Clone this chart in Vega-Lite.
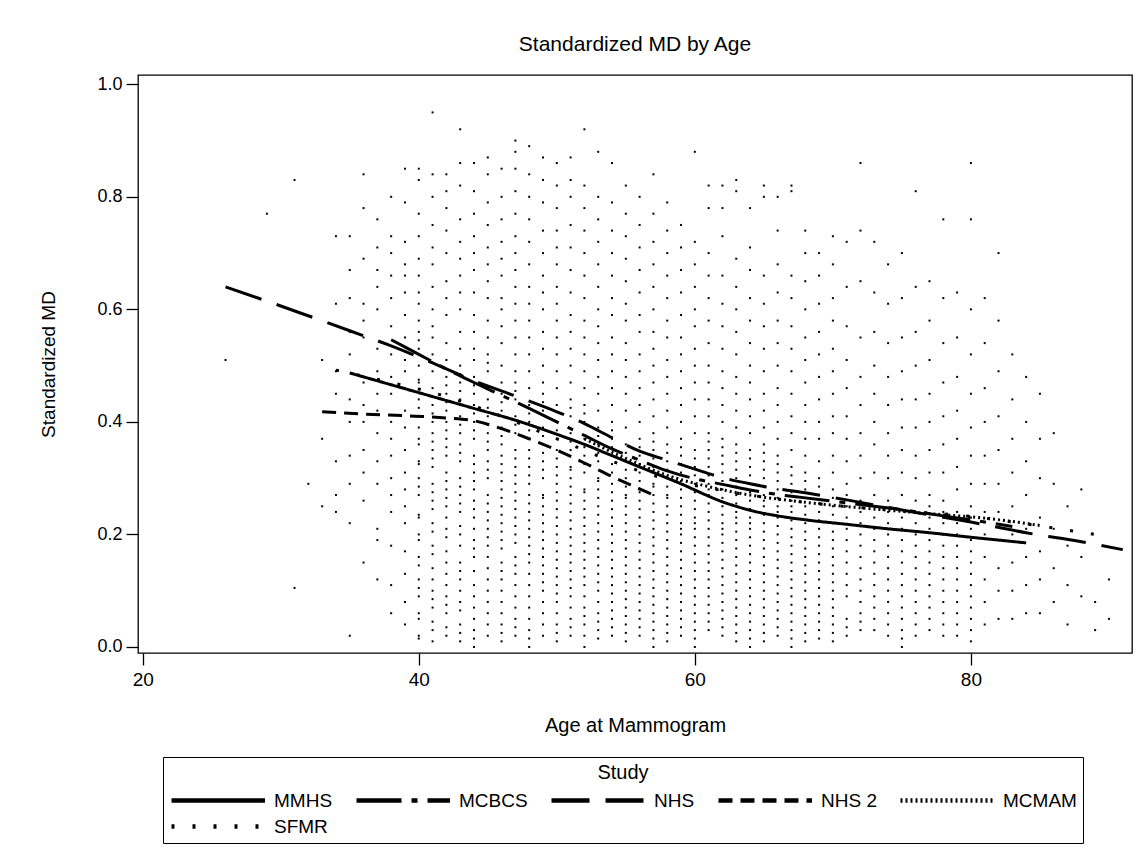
{
"$schema":"https://vega.github.io/schema/vega-lite/v6.json",
"width":994,"height":578,
"autosize":{"type":"none"},
"padding":{"left":138,"top":75,"right":9,"bottom":208},
"background":"white",
"title":{"text":"Standardized MD by Age","anchor":"middle","frame":"group","fontSize":21,"fontWeight":"normal","font":"Liberation Sans","offset":20,"color":"black"},
"config":{
"view":{"stroke":"black","strokeWidth":1.3},
"axis":{"grid":false,"domain":false,"tickColor":"black","tickWidth":1.3,"tickSize":12,"labelColor":"black","titleColor":"black","titleFontWeight":"normal","labelFont":"Liberation Sans","titleFont":"Liberation Sans"},
"legend":{"orient":"none","legendX":25,"legendY":682,"direction":"horizontal","columns":5,"gridAlign":"none","titleAnchor":"middle","strokeColor":"black","padding":6,"titleFont":"Liberation Sans","titleFontSize":20,"titleFontWeight":"normal","titleColor":"black","labelFont":"Liberation Sans","labelFontSize":19,"labelColor":"black","symbolType":"M-1,0L7.5,0","symbolSize":484,"symbolStrokeWidth":4.5,"symbolStrokeColor":"black","symbolFillColor":"transparent","columnPadding":14,"rowPadding":2,"labelOffset":78,"titlePadding":4}
},
"layer":[
{"data":{"values":[
{"a":26,"m":0.51},{"a":29,"m":0.77},{"a":31,"m":0.83},{"a":31,"m":0.105},{"a":32,"m":0.29},
{"a":33,"m":0.51},{"a":33,"m":0.37},{"a":33,"m":0.25},
{"a":34,"m":0.61},{"a":34,"m":0.33},{"a":34,"m":0.27},{"a":34,"m":0.24},{"a":34,"m":0.73},{"a":34,"m":0.45},{"a":34,"m":0.49},
{"a":35,"m":0.67},{"a":35,"m":0.62},{"a":35,"m":0.56},{"a":35,"m":0.44},{"a":35,"m":0.4},{"a":35,"m":0.29},{"a":35,"m":0.22},{"a":35,"m":0.02},{"a":35,"m":0.52},{"a":35,"m":0.73},{"a":35,"m":0.34},
{"a":36,"m":0.84},{"a":36,"m":0.78},{"a":36,"m":0.69},{"a":36,"m":0.61},{"a":36,"m":0.55},{"a":36,"m":0.47},{"a":36,"m":0.43},{"a":36,"m":0.35},{"a":36,"m":0.31},{"a":36,"m":0.26},{"a":36,"m":0.15},{"a":36,"m":0.58},{"a":36,"m":0.4},
{"a":37,"m":0.76},{"a":37,"m":0.71},{"a":37,"m":0.64},{"a":37,"m":0.53},{"a":37,"m":0.49},{"a":37,"m":0.42},{"a":37,"m":0.38},{"a":37,"m":0.33},{"a":37,"m":0.29},{"a":37,"m":0.21},{"a":37,"m":0.19},{"a":37,"m":0.12},{"a":37,"m":0.6},{"a":37,"m":0.67},{"a":37,"m":0.45},
{"a":38,"m":0.8},{"a":38,"m":0.73},{"a":38,"m":0.7},{"a":38,"m":0.66},{"a":38,"m":0.57},{"a":38,"m":0.52},{"a":38,"m":0.48},{"a":38,"m":0.45},{"a":38,"m":0.4},{"a":38,"m":0.37},{"a":38,"m":0.3},{"a":38,"m":0.27},{"a":38,"m":0.24},{"a":38,"m":0.18},{"a":38,"m":0.11},{"a":38,"m":0.06},{"a":38,"m":0.62},{"a":38,"m":0.34},
{"a":39,"m":0.85},{"a":39,"m":0.79},{"a":39,"m":0.72},{"a":39,"m":0.68},{"a":39,"m":0.63},{"a":39,"m":0.59},{"a":39,"m":0.55},{"a":39,"m":0.51},{"a":39,"m":0.46},{"a":39,"m":0.42},{"a":39,"m":0.39},{"a":39,"m":0.35},{"a":39,"m":0.31},{"a":39,"m":0.28},{"a":39,"m":0.22},{"a":39,"m":0.17},{"a":39,"m":0.13},{"a":39,"m":0.08},{"a":39,"m":0.04},{"a":39,"m":0.66},{"a":39,"m":0.49},{"a":39,"m":0.25},
{"a":40,"m":0.85},{"a":40,"m":0.83},{"a":40,"m":0.77},{"a":40,"m":0.73},{"a":40,"m":0.69},{"a":40,"m":0.66},{"a":40,"m":0.61},{"a":40,"m":0.58},{"a":40,"m":0.56},{"a":40,"m":0.53},{"a":40,"m":0.5},{"a":40,"m":0.47},{"a":40,"m":0.44},{"a":40,"m":0.41},{"a":40,"m":0.39},{"a":40,"m":0.36},{"a":40,"m":0.33},{"a":40,"m":0.3},{"a":40,"m":0.27},{"a":40,"m":0.23},{"a":40,"m":0.2},{"a":40,"m":0.16},{"a":40,"m":0.12},{"a":40,"m":0.09},{"a":40,"m":0.05},{"a":40,"m":0.02},{"a":40,"m":0.63},
{"a":41,"m":0.95},{"a":41,"m":0.84},{"a":41,"m":0.8},{"a":41,"m":0.75},{"a":41,"m":0.71},{"a":41,"m":0.68},{"a":41,"m":0.64},{"a":41,"m":0.6},{"a":41,"m":0.57},{"a":41,"m":0.55},{"a":41,"m":0.52},{"a":41,"m":0.49},{"a":41,"m":0.46},{"a":41,"m":0.43},{"a":41,"m":0.4},{"a":41,"m":0.38},{"a":41,"m":0.35},{"a":41,"m":0.32},{"a":41,"m":0.29},{"a":41,"m":0.26},{"a":41,"m":0.22},{"a":41,"m":0.18},{"a":41,"m":0.14},{"a":41,"m":0.1},{"a":41,"m":0.07},{"a":41,"m":0.03},{"a":41,"m":0.01},
{"a":42,"m":0.84},{"a":42,"m":0.81},{"a":42,"m":0.78},{"a":42,"m":0.74},{"a":42,"m":0.7},{"a":42,"m":0.65},{"a":42,"m":0.62},{"a":42,"m":0.59},{"a":42,"m":0.54},{"a":42,"m":0.51},{"a":42,"m":0.48},{"a":42,"m":0.45},{"a":42,"m":0.42},{"a":42,"m":0.4},{"a":42,"m":0.37},{"a":42,"m":0.34},{"a":42,"m":0.31},{"a":42,"m":0.28},{"a":42,"m":0.25},{"a":42,"m":0.21},{"a":42,"m":0.17},{"a":42,"m":0.13},{"a":42,"m":0.09},{"a":42,"m":0.06},{"a":42,"m":0.02},
{"a":43,"m":0.92},{"a":43,"m":0.86},{"a":43,"m":0.82},{"a":43,"m":0.76},{"a":43,"m":0.72},{"a":43,"m":0.69},{"a":43,"m":0.66},{"a":43,"m":0.63},{"a":43,"m":0.6},{"a":43,"m":0.56},{"a":43,"m":0.53},{"a":43,"m":0.5},{"a":43,"m":0.47},{"a":43,"m":0.44},{"a":43,"m":0.41},{"a":43,"m":0.38},{"a":43,"m":0.36},{"a":43,"m":0.33},{"a":43,"m":0.3},{"a":43,"m":0.27},{"a":43,"m":0.24},{"a":43,"m":0.2},{"a":43,"m":0.15},{"a":43,"m":0.12},{"a":43,"m":0.08},{"a":43,"m":0.04},{"a":43,"m":0.01},
{"a":44,"m":0.86},{"a":44,"m":0.81},{"a":44,"m":0.77},{"a":44,"m":0.73},{"a":44,"m":0.7},{"a":44,"m":0.67},{"a":44,"m":0.63},{"a":44,"m":0.59},{"a":44,"m":0.56},{"a":44,"m":0.53},{"a":44,"m":0.51},{"a":44,"m":0.48},{"a":44,"m":0.45},{"a":44,"m":0.43},{"a":44,"m":0.4},{"a":44,"m":0.37},{"a":44,"m":0.34},{"a":44,"m":0.31},{"a":44,"m":0.28},{"a":44,"m":0.26},{"a":44,"m":0.23},{"a":44,"m":0.19},{"a":44,"m":0.16},{"a":44,"m":0.11},{"a":44,"m":0.07},{"a":44,"m":0.03},{"a":44,"m":0.0},
{"a":45,"m":0.87},{"a":45,"m":0.84},{"a":45,"m":0.79},{"a":45,"m":0.75},{"a":45,"m":0.71},{"a":45,"m":0.68},{"a":45,"m":0.65},{"a":45,"m":0.62},{"a":45,"m":0.58},{"a":45,"m":0.55},{"a":45,"m":0.52},{"a":45,"m":0.49},{"a":45,"m":0.46},{"a":45,"m":0.44},{"a":45,"m":0.41},{"a":45,"m":0.38},{"a":45,"m":0.35},{"a":45,"m":0.33},{"a":45,"m":0.3},{"a":45,"m":0.27},{"a":45,"m":0.24},{"a":45,"m":0.21},{"a":45,"m":0.18},{"a":45,"m":0.14},{"a":45,"m":0.1},{"a":45,"m":0.06},{"a":45,"m":0.02},
{"a":46,"m":0.85},{"a":46,"m":0.8},{"a":46,"m":0.76},{"a":46,"m":0.72},{"a":46,"m":0.69},{"a":46,"m":0.66},{"a":46,"m":0.62},{"a":46,"m":0.6},{"a":46,"m":0.57},{"a":46,"m":0.54},{"a":46,"m":0.5},{"a":46,"m":0.47},{"a":46,"m":0.45},{"a":46,"m":0.42},{"a":46,"m":0.39},{"a":46,"m":0.36},{"a":46,"m":0.34},{"a":46,"m":0.31},{"a":46,"m":0.28},{"a":46,"m":0.25},{"a":46,"m":0.22},{"a":46,"m":0.19},{"a":46,"m":0.15},{"a":46,"m":0.12},{"a":46,"m":0.08},{"a":46,"m":0.04},{"a":46,"m":0.01},
{"a":47,"m":0.9},{"a":47,"m":0.88},{"a":47,"m":0.85},{"a":47,"m":0.81},{"a":47,"m":0.77},{"a":47,"m":0.73},{"a":47,"m":0.7},{"a":47,"m":0.67},{"a":47,"m":0.64},{"a":47,"m":0.61},{"a":47,"m":0.58},{"a":47,"m":0.55},{"a":47,"m":0.52},{"a":47,"m":0.49},{"a":47,"m":0.47},{"a":47,"m":0.44},{"a":47,"m":0.41},{"a":47,"m":0.38},{"a":47,"m":0.35},{"a":47,"m":0.32},{"a":47,"m":0.29},{"a":47,"m":0.26},{"a":47,"m":0.23},{"a":47,"m":0.2},{"a":47,"m":0.16},{"a":47,"m":0.13},{"a":47,"m":0.09},{"a":47,"m":0.05},{"a":47,"m":0.02},
{"a":48,"m":0.89},{"a":48,"m":0.84},{"a":48,"m":0.8},{"a":48,"m":0.76},{"a":48,"m":0.72},{"a":48,"m":0.68},{"a":48,"m":0.64},{"a":48,"m":0.61},{"a":48,"m":0.58},{"a":48,"m":0.55},{"a":48,"m":0.52},{"a":48,"m":0.49},{"a":48,"m":0.46},{"a":48,"m":0.43},{"a":48,"m":0.4},{"a":48,"m":0.37},{"a":48,"m":0.35},{"a":48,"m":0.32},{"a":48,"m":0.29},{"a":48,"m":0.27},{"a":48,"m":0.24},{"a":48,"m":0.21},{"a":48,"m":0.18},{"a":48,"m":0.15},{"a":48,"m":0.11},{"a":48,"m":0.07},{"a":48,"m":0.03},{"a":48,"m":0.0},
{"a":49,"m":0.87},{"a":49,"m":0.83},{"a":49,"m":0.79},{"a":49,"m":0.74},{"a":49,"m":0.7},{"a":49,"m":0.66},{"a":49,"m":0.63},{"a":49,"m":0.6},{"a":49,"m":0.56},{"a":49,"m":0.53},{"a":49,"m":0.5},{"a":49,"m":0.47},{"a":49,"m":0.45},{"a":49,"m":0.42},{"a":49,"m":0.39},{"a":49,"m":0.36},{"a":49,"m":0.33},{"a":49,"m":0.3},{"a":49,"m":0.27},{"a":49,"m":0.25},{"a":49,"m":0.22},{"a":49,"m":0.19},{"a":49,"m":0.16},{"a":49,"m":0.13},{"a":49,"m":0.1},{"a":49,"m":0.06},{"a":49,"m":0.02},
{"a":50,"m":0.86},{"a":50,"m":0.82},{"a":50,"m":0.78},{"a":50,"m":0.74},{"a":50,"m":0.71},{"a":50,"m":0.68},{"a":50,"m":0.64},{"a":50,"m":0.61},{"a":50,"m":0.58},{"a":50,"m":0.55},{"a":50,"m":0.52},{"a":50,"m":0.49},{"a":50,"m":0.46},{"a":50,"m":0.43},{"a":50,"m":0.4},{"a":50,"m":0.37},{"a":50,"m":0.35},{"a":50,"m":0.32},{"a":50,"m":0.29},{"a":50,"m":0.26},{"a":50,"m":0.23},{"a":50,"m":0.2},{"a":50,"m":0.17},{"a":50,"m":0.14},{"a":50,"m":0.11},{"a":50,"m":0.08},{"a":50,"m":0.04},{"a":50,"m":0.01},
{"a":51,"m":0.87},{"a":51,"m":0.83},{"a":51,"m":0.8},{"a":51,"m":0.75},{"a":51,"m":0.71},{"a":51,"m":0.67},{"a":51,"m":0.63},{"a":51,"m":0.59},{"a":51,"m":0.56},{"a":51,"m":0.53},{"a":51,"m":0.5},{"a":51,"m":0.47},{"a":51,"m":0.44},{"a":51,"m":0.41},{"a":51,"m":0.38},{"a":51,"m":0.35},{"a":51,"m":0.32},{"a":51,"m":0.3},{"a":51,"m":0.27},{"a":51,"m":0.24},{"a":51,"m":0.21},{"a":51,"m":0.18},{"a":51,"m":0.15},{"a":51,"m":0.12},{"a":51,"m":0.09},{"a":51,"m":0.05},{"a":51,"m":0.02},
{"a":52,"m":0.92},{"a":52,"m":0.82},{"a":52,"m":0.78},{"a":52,"m":0.74},{"a":52,"m":0.7},{"a":52,"m":0.66},{"a":52,"m":0.62},{"a":52,"m":0.58},{"a":52,"m":0.55},{"a":52,"m":0.52},{"a":52,"m":0.49},{"a":52,"m":0.46},{"a":52,"m":0.43},{"a":52,"m":0.4},{"a":52,"m":0.37},{"a":52,"m":0.34},{"a":52,"m":0.31},{"a":52,"m":0.28},{"a":52,"m":0.26},{"a":52,"m":0.23},{"a":52,"m":0.2},{"a":52,"m":0.17},{"a":52,"m":0.14},{"a":52,"m":0.11},{"a":52,"m":0.07},{"a":52,"m":0.04},{"a":52,"m":0.0},
{"a":53,"m":0.88},{"a":53,"m":0.8},{"a":53,"m":0.76},{"a":53,"m":0.72},{"a":53,"m":0.68},{"a":53,"m":0.64},{"a":53,"m":0.6},{"a":53,"m":0.57},{"a":53,"m":0.54},{"a":53,"m":0.51},{"a":53,"m":0.48},{"a":53,"m":0.45},{"a":53,"m":0.42},{"a":53,"m":0.39},{"a":53,"m":0.36},{"a":53,"m":0.33},{"a":53,"m":0.3},{"a":53,"m":0.28},{"a":53,"m":0.25},{"a":53,"m":0.22},{"a":53,"m":0.19},{"a":53,"m":0.16},{"a":53,"m":0.13},{"a":53,"m":0.1},{"a":53,"m":0.06},{"a":53,"m":0.03},
{"a":54,"m":0.86},{"a":54,"m":0.79},{"a":54,"m":0.74},{"a":54,"m":0.7},{"a":54,"m":0.66},{"a":54,"m":0.62},{"a":54,"m":0.59},{"a":54,"m":0.55},{"a":54,"m":0.52},{"a":54,"m":0.49},{"a":54,"m":0.46},{"a":54,"m":0.43},{"a":54,"m":0.4},{"a":54,"m":0.37},{"a":54,"m":0.34},{"a":54,"m":0.31},{"a":54,"m":0.29},{"a":54,"m":0.26},{"a":54,"m":0.23},{"a":54,"m":0.2},{"a":54,"m":0.17},{"a":54,"m":0.14},{"a":54,"m":0.11},{"a":54,"m":0.08},{"a":54,"m":0.05},{"a":54,"m":0.02},
{"a":55,"m":0.82},{"a":55,"m":0.77},{"a":55,"m":0.73},{"a":55,"m":0.69},{"a":55,"m":0.65},{"a":55,"m":0.61},{"a":55,"m":0.58},{"a":55,"m":0.54},{"a":55,"m":0.51},{"a":55,"m":0.48},{"a":55,"m":0.45},{"a":55,"m":0.42},{"a":55,"m":0.39},{"a":55,"m":0.36},{"a":55,"m":0.33},{"a":55,"m":0.3},{"a":55,"m":0.27},{"a":55,"m":0.25},{"a":55,"m":0.22},{"a":55,"m":0.19},{"a":55,"m":0.16},{"a":55,"m":0.13},{"a":55,"m":0.1},{"a":55,"m":0.07},{"a":55,"m":0.04},{"a":55,"m":0.01},
{"a":56,"m":0.8},{"a":56,"m":0.75},{"a":56,"m":0.71},{"a":56,"m":0.67},{"a":56,"m":0.63},{"a":56,"m":0.59},{"a":56,"m":0.56},{"a":56,"m":0.52},{"a":56,"m":0.49},{"a":56,"m":0.46},{"a":56,"m":0.43},{"a":56,"m":0.4},{"a":56,"m":0.37},{"a":56,"m":0.34},{"a":56,"m":0.31},{"a":56,"m":0.28},{"a":56,"m":0.26},{"a":56,"m":0.23},{"a":56,"m":0.2},{"a":56,"m":0.17},{"a":56,"m":0.14},{"a":56,"m":0.11},{"a":56,"m":0.08},{"a":56,"m":0.05},{"a":56,"m":0.02},
{"a":57,"m":0.84},{"a":57,"m":0.77},{"a":57,"m":0.72},{"a":57,"m":0.68},{"a":57,"m":0.64},{"a":57,"m":0.6},{"a":57,"m":0.56},{"a":57,"m":0.53},{"a":57,"m":0.5},{"a":57,"m":0.47},{"a":57,"m":0.44},{"a":57,"m":0.41},{"a":57,"m":0.38},{"a":57,"m":0.35},{"a":57,"m":0.32},{"a":57,"m":0.29},{"a":57,"m":0.27},{"a":57,"m":0.24},{"a":57,"m":0.21},{"a":57,"m":0.18},{"a":57,"m":0.15},{"a":57,"m":0.12},{"a":57,"m":0.09},{"a":57,"m":0.06},{"a":57,"m":0.03},{"a":57,"m":0.0},
{"a":58,"m":0.79},{"a":58,"m":0.74},{"a":58,"m":0.7},{"a":58,"m":0.66},{"a":58,"m":0.62},{"a":58,"m":0.58},{"a":58,"m":0.55},{"a":58,"m":0.51},{"a":58,"m":0.48},{"a":58,"m":0.45},{"a":58,"m":0.42},{"a":58,"m":0.39},{"a":58,"m":0.36},{"a":58,"m":0.33},{"a":58,"m":0.3},{"a":58,"m":0.27},{"a":58,"m":0.25},{"a":58,"m":0.22},{"a":58,"m":0.19},{"a":58,"m":0.16},{"a":58,"m":0.13},{"a":58,"m":0.1},{"a":58,"m":0.07},{"a":58,"m":0.04},{"a":58,"m":0.01},
{"a":59,"m":0.75},{"a":59,"m":0.71},{"a":59,"m":0.67},{"a":59,"m":0.63},{"a":59,"m":0.59},{"a":59,"m":0.55},{"a":59,"m":0.52},{"a":59,"m":0.49},{"a":59,"m":0.46},{"a":59,"m":0.43},{"a":59,"m":0.4},{"a":59,"m":0.37},{"a":59,"m":0.34},{"a":59,"m":0.31},{"a":59,"m":0.28},{"a":59,"m":0.25},{"a":59,"m":0.22},{"a":59,"m":0.2},{"a":59,"m":0.17},{"a":59,"m":0.14},{"a":59,"m":0.11},{"a":59,"m":0.08},{"a":59,"m":0.05},{"a":59,"m":0.02},
{"a":60,"m":0.88},{"a":60,"m":0.72},{"a":60,"m":0.68},{"a":60,"m":0.64},{"a":60,"m":0.6},{"a":60,"m":0.57},{"a":60,"m":0.53},{"a":60,"m":0.5},{"a":60,"m":0.47},{"a":60,"m":0.44},{"a":60,"m":0.41},{"a":60,"m":0.38},{"a":60,"m":0.35},{"a":60,"m":0.32},{"a":60,"m":0.29},{"a":60,"m":0.26},{"a":60,"m":0.23},{"a":60,"m":0.21},{"a":60,"m":0.18},{"a":60,"m":0.15},{"a":60,"m":0.12},{"a":60,"m":0.09},{"a":60,"m":0.06},{"a":60,"m":0.03},{"a":60,"m":0.0},
{"a":61,"m":0.82},{"a":61,"m":0.78},{"a":61,"m":0.7},{"a":61,"m":0.66},{"a":61,"m":0.62},{"a":61,"m":0.58},{"a":61,"m":0.54},{"a":61,"m":0.5},{"a":61,"m":0.47},{"a":61,"m":0.44},{"a":61,"m":0.41},{"a":61,"m":0.38},{"a":61,"m":0.35},{"a":61,"m":0.32},{"a":61,"m":0.29},{"a":61,"m":0.27},{"a":61,"m":0.24},{"a":61,"m":0.21},{"a":61,"m":0.18},{"a":61,"m":0.15},{"a":61,"m":0.12},{"a":61,"m":0.09},{"a":61,"m":0.06},{"a":61,"m":0.03},
{"a":62,"m":0.82},{"a":62,"m":0.78},{"a":62,"m":0.73},{"a":62,"m":0.66},{"a":62,"m":0.61},{"a":62,"m":0.57},{"a":62,"m":0.53},{"a":62,"m":0.49},{"a":62,"m":0.46},{"a":62,"m":0.43},{"a":62,"m":0.4},{"a":62,"m":0.37},{"a":62,"m":0.34},{"a":62,"m":0.31},{"a":62,"m":0.28},{"a":62,"m":0.25},{"a":62,"m":0.22},{"a":62,"m":0.2},{"a":62,"m":0.17},{"a":62,"m":0.14},{"a":62,"m":0.11},{"a":62,"m":0.08},{"a":62,"m":0.05},{"a":62,"m":0.02},
{"a":63,"m":0.83},{"a":63,"m":0.81},{"a":63,"m":0.69},{"a":63,"m":0.64},{"a":63,"m":0.6},{"a":63,"m":0.56},{"a":63,"m":0.52},{"a":63,"m":0.48},{"a":63,"m":0.45},{"a":63,"m":0.42},{"a":63,"m":0.39},{"a":63,"m":0.36},{"a":63,"m":0.33},{"a":63,"m":0.3},{"a":63,"m":0.27},{"a":63,"m":0.24},{"a":63,"m":0.22},{"a":63,"m":0.19},{"a":63,"m":0.16},{"a":63,"m":0.13},{"a":63,"m":0.1},{"a":63,"m":0.07},{"a":63,"m":0.04},{"a":63,"m":0.01},
{"a":64,"m":0.78},{"a":64,"m":0.71},{"a":64,"m":0.67},{"a":64,"m":0.62},{"a":64,"m":0.58},{"a":64,"m":0.54},{"a":64,"m":0.5},{"a":64,"m":0.47},{"a":64,"m":0.44},{"a":64,"m":0.41},{"a":64,"m":0.38},{"a":64,"m":0.35},{"a":64,"m":0.32},{"a":64,"m":0.29},{"a":64,"m":0.26},{"a":64,"m":0.23},{"a":64,"m":0.21},{"a":64,"m":0.18},{"a":64,"m":0.15},{"a":64,"m":0.12},{"a":64,"m":0.09},{"a":64,"m":0.06},{"a":64,"m":0.03},{"a":64,"m":0.0},
{"a":65,"m":0.82},{"a":65,"m":0.8},{"a":65,"m":0.66},{"a":65,"m":0.61},{"a":65,"m":0.57},{"a":65,"m":0.53},{"a":65,"m":0.49},{"a":65,"m":0.45},{"a":65,"m":0.42},{"a":65,"m":0.39},{"a":65,"m":0.36},{"a":65,"m":0.33},{"a":65,"m":0.3},{"a":65,"m":0.27},{"a":65,"m":0.25},{"a":65,"m":0.22},{"a":65,"m":0.19},{"a":65,"m":0.16},{"a":65,"m":0.13},{"a":65,"m":0.1},{"a":65,"m":0.07},{"a":65,"m":0.04},{"a":65,"m":0.01},
{"a":66,"m":0.8},{"a":66,"m":0.74},{"a":66,"m":0.68},{"a":66,"m":0.63},{"a":66,"m":0.58},{"a":66,"m":0.54},{"a":66,"m":0.5},{"a":66,"m":0.46},{"a":66,"m":0.43},{"a":66,"m":0.4},{"a":66,"m":0.37},{"a":66,"m":0.34},{"a":66,"m":0.31},{"a":66,"m":0.28},{"a":66,"m":0.25},{"a":66,"m":0.23},{"a":66,"m":0.2},{"a":66,"m":0.17},{"a":66,"m":0.14},{"a":66,"m":0.11},{"a":66,"m":0.08},{"a":66,"m":0.05},{"a":66,"m":0.02},
{"a":67,"m":0.82},{"a":67,"m":0.81},{"a":67,"m":0.66},{"a":67,"m":0.62},{"a":67,"m":0.57},{"a":67,"m":0.53},{"a":67,"m":0.49},{"a":67,"m":0.45},{"a":67,"m":0.41},{"a":67,"m":0.38},{"a":67,"m":0.35},{"a":67,"m":0.32},{"a":67,"m":0.29},{"a":67,"m":0.26},{"a":67,"m":0.24},{"a":67,"m":0.21},{"a":67,"m":0.18},{"a":67,"m":0.15},{"a":67,"m":0.12},{"a":67,"m":0.09},{"a":67,"m":0.06},{"a":67,"m":0.03},{"a":67,"m":0.0},
{"a":68,"m":0.74},{"a":68,"m":0.7},{"a":68,"m":0.65},{"a":68,"m":0.6},{"a":68,"m":0.55},{"a":68,"m":0.51},{"a":68,"m":0.47},{"a":68,"m":0.43},{"a":68,"m":0.4},{"a":68,"m":0.37},{"a":68,"m":0.34},{"a":68,"m":0.31},{"a":68,"m":0.28},{"a":68,"m":0.25},{"a":68,"m":0.22},{"a":68,"m":0.19},{"a":68,"m":0.16},{"a":68,"m":0.13},{"a":68,"m":0.1},{"a":68,"m":0.07},{"a":68,"m":0.04},{"a":68,"m":0.01},
{"a":69,"m":0.7},{"a":69,"m":0.66},{"a":69,"m":0.61},{"a":69,"m":0.56},{"a":69,"m":0.52},{"a":69,"m":0.48},{"a":69,"m":0.44},{"a":69,"m":0.4},{"a":69,"m":0.37},{"a":69,"m":0.33},{"a":69,"m":0.3},{"a":69,"m":0.27},{"a":69,"m":0.24},{"a":69,"m":0.21},{"a":69,"m":0.18},{"a":69,"m":0.15},{"a":69,"m":0.12},{"a":69,"m":0.09},{"a":69,"m":0.06},{"a":69,"m":0.03},
{"a":70,"m":0.73},{"a":70,"m":0.68},{"a":70,"m":0.62},{"a":70,"m":0.58},{"a":70,"m":0.53},{"a":70,"m":0.49},{"a":70,"m":0.45},{"a":70,"m":0.41},{"a":70,"m":0.38},{"a":70,"m":0.34},{"a":70,"m":0.31},{"a":70,"m":0.28},{"a":70,"m":0.25},{"a":70,"m":0.22},{"a":70,"m":0.19},{"a":70,"m":0.16},{"a":70,"m":0.13},{"a":70,"m":0.1},{"a":70,"m":0.07},{"a":70,"m":0.04},{"a":70,"m":0.01},
{"a":71,"m":0.72},{"a":71,"m":0.64},{"a":71,"m":0.57},{"a":71,"m":0.51},{"a":71,"m":0.46},{"a":71,"m":0.41},{"a":71,"m":0.37},{"a":71,"m":0.33},{"a":71,"m":0.29},{"a":71,"m":0.25},{"a":71,"m":0.21},{"a":71,"m":0.17},{"a":71,"m":0.13},{"a":71,"m":0.09},{"a":71,"m":0.05},{"a":71,"m":0.02},
{"a":72,"m":0.86},{"a":72,"m":0.74},{"a":72,"m":0.65},{"a":72,"m":0.55},{"a":72,"m":0.48},{"a":72,"m":0.43},{"a":72,"m":0.38},{"a":72,"m":0.34},{"a":72,"m":0.3},{"a":72,"m":0.26},{"a":72,"m":0.22},{"a":72,"m":0.18},{"a":72,"m":0.14},{"a":72,"m":0.1},{"a":72,"m":0.06},{"a":72,"m":0.03},
{"a":73,"m":0.72},{"a":73,"m":0.63},{"a":73,"m":0.56},{"a":73,"m":0.5},{"a":73,"m":0.45},{"a":73,"m":0.4},{"a":73,"m":0.36},{"a":73,"m":0.31},{"a":73,"m":0.27},{"a":73,"m":0.23},{"a":73,"m":0.19},{"a":73,"m":0.15},{"a":73,"m":0.11},{"a":73,"m":0.07},{"a":73,"m":0.03},
{"a":74,"m":0.68},{"a":74,"m":0.61},{"a":74,"m":0.54},{"a":74,"m":0.48},{"a":74,"m":0.43},{"a":74,"m":0.38},{"a":74,"m":0.34},{"a":74,"m":0.3},{"a":74,"m":0.26},{"a":74,"m":0.22},{"a":74,"m":0.18},{"a":74,"m":0.14},{"a":74,"m":0.1},{"a":74,"m":0.06},{"a":74,"m":0.02},
{"a":75,"m":0.7},{"a":75,"m":0.62},{"a":75,"m":0.55},{"a":75,"m":0.49},{"a":75,"m":0.44},{"a":75,"m":0.39},{"a":75,"m":0.35},{"a":75,"m":0.31},{"a":75,"m":0.27},{"a":75,"m":0.23},{"a":75,"m":0.19},{"a":75,"m":0.15},{"a":75,"m":0.11},{"a":75,"m":0.07},{"a":75,"m":0.03},{"a":75,"m":0.0},
{"a":76,"m":0.81},{"a":76,"m":0.64},{"a":76,"m":0.56},{"a":76,"m":0.5},{"a":76,"m":0.44},{"a":76,"m":0.39},{"a":76,"m":0.34},{"a":76,"m":0.3},{"a":76,"m":0.26},{"a":76,"m":0.22},{"a":76,"m":0.18},{"a":76,"m":0.14},{"a":76,"m":0.1},{"a":76,"m":0.06},{"a":76,"m":0.02},
{"a":77,"m":0.65},{"a":77,"m":0.58},{"a":77,"m":0.51},{"a":77,"m":0.45},{"a":77,"m":0.4},{"a":77,"m":0.35},{"a":77,"m":0.31},{"a":77,"m":0.27},{"a":77,"m":0.23},{"a":77,"m":0.19},{"a":77,"m":0.15},{"a":77,"m":0.11},{"a":77,"m":0.07},{"a":77,"m":0.03},
{"a":78,"m":0.76},{"a":78,"m":0.62},{"a":78,"m":0.54},{"a":78,"m":0.47},{"a":78,"m":0.41},{"a":78,"m":0.36},{"a":78,"m":0.31},{"a":78,"m":0.26},{"a":78,"m":0.22},{"a":78,"m":0.18},{"a":78,"m":0.14},{"a":78,"m":0.1},{"a":78,"m":0.06},{"a":78,"m":0.02},
{"a":79,"m":0.63},{"a":79,"m":0.55},{"a":79,"m":0.48},{"a":79,"m":0.42},{"a":79,"m":0.37},{"a":79,"m":0.32},{"a":79,"m":0.28},{"a":79,"m":0.24},{"a":79,"m":0.2},{"a":79,"m":0.16},{"a":79,"m":0.12},{"a":79,"m":0.08},{"a":79,"m":0.04},
{"a":80,"m":0.86},{"a":80,"m":0.76},{"a":80,"m":0.6},{"a":80,"m":0.52},{"a":80,"m":0.45},{"a":80,"m":0.39},{"a":80,"m":0.34},{"a":80,"m":0.29},{"a":80,"m":0.25},{"a":80,"m":0.21},{"a":80,"m":0.17},{"a":80,"m":0.13},{"a":80,"m":0.09},{"a":80,"m":0.05},{"a":80,"m":0.01},
{"a":81,"m":0.62},{"a":81,"m":0.54},{"a":81,"m":0.46},{"a":81,"m":0.4},{"a":81,"m":0.34},{"a":81,"m":0.29},{"a":81,"m":0.24},{"a":81,"m":0.2},{"a":81,"m":0.16},{"a":81,"m":0.12},{"a":81,"m":0.08},{"a":81,"m":0.04},
{"a":82,"m":0.7},{"a":82,"m":0.58},{"a":82,"m":0.49},{"a":82,"m":0.41},{"a":82,"m":0.35},{"a":82,"m":0.29},{"a":82,"m":0.24},{"a":82,"m":0.19},{"a":82,"m":0.14},{"a":82,"m":0.1},{"a":82,"m":0.05},
{"a":83,"m":0.52},{"a":83,"m":0.44},{"a":83,"m":0.37},{"a":83,"m":0.31},{"a":83,"m":0.25},{"a":83,"m":0.2},{"a":83,"m":0.15},{"a":83,"m":0.1},{"a":83,"m":0.05},
{"a":84,"m":0.48},{"a":84,"m":0.4},{"a":84,"m":0.33},{"a":84,"m":0.27},{"a":84,"m":0.21},{"a":84,"m":0.16},{"a":84,"m":0.11},{"a":84,"m":0.06},
{"a":85,"m":0.45},{"a":85,"m":0.37},{"a":85,"m":0.3},{"a":85,"m":0.23},{"a":85,"m":0.17},{"a":85,"m":0.12},{"a":85,"m":0.06},
{"a":86,"m":0.38},{"a":86,"m":0.29},{"a":86,"m":0.21},{"a":86,"m":0.14},{"a":86,"m":0.08},
{"a":87,"m":0.25},{"a":87,"m":0.18},{"a":87,"m":0.11},{"a":87,"m":0.04},
{"a":88,"m":0.28},{"a":88,"m":0.16},{"a":88,"m":0.09},
{"a":89,"m":0.08},{"a":89,"m":0.03},
{"a":90,"m":0.05},{"a":90,"m":0.12},
{"a":40,"m":0.015},{"a":40,"m":0.06},{"a":40,"m":0.105},{"a":40,"m":0.145},{"a":40,"m":0.19},{"a":40,"m":0.235},{"a":40,"m":0.285},{"a":40,"m":0.325},{"a":40,"m":0.37},{"a":40,"m":0.425},{"a":40,"m":0.475},{"a":40,"m":0.545},
{"a":41,"m":0.045},{"a":41,"m":0.085},{"a":41,"m":0.12},{"a":41,"m":0.165},{"a":41,"m":0.205},{"a":41,"m":0.245},{"a":41,"m":0.275},{"a":41,"m":0.335},{"a":41,"m":0.365},{"a":41,"m":0.415},{"a":41,"m":0.445},{"a":41,"m":0.505},
{"a":42,"m":0.035},{"a":42,"m":0.075},{"a":42,"m":0.11},{"a":42,"m":0.15},{"a":42,"m":0.195},{"a":42,"m":0.23},{"a":42,"m":0.265},{"a":42,"m":0.295},{"a":42,"m":0.355},{"a":42,"m":0.385},{"a":42,"m":0.435},{"a":42,"m":0.465},
{"a":43,"m":0.025},{"a":43,"m":0.065},{"a":43,"m":0.1},{"a":43,"m":0.135},{"a":43,"m":0.18},{"a":43,"m":0.215},{"a":43,"m":0.255},{"a":43,"m":0.285},{"a":43,"m":0.345},{"a":43,"m":0.395},{"a":43,"m":0.455},{"a":43,"m":0.485},
{"a":44,"m":0.015},{"a":44,"m":0.05},{"a":44,"m":0.09},{"a":44,"m":0.135},{"a":44,"m":0.175},{"a":44,"m":0.21},{"a":44,"m":0.245},{"a":44,"m":0.295},{"a":44,"m":0.325},{"a":44,"m":0.385},{"a":44,"m":0.415},{"a":44,"m":0.465},
{"a":45,"m":0.04},{"a":45,"m":0.08},{"a":45,"m":0.12},{"a":45,"m":0.16},{"a":45,"m":0.195},{"a":45,"m":0.225},{"a":45,"m":0.255},{"a":45,"m":0.315},{"a":45,"m":0.365},{"a":45,"m":0.395},{"a":45,"m":0.425},{"a":45,"m":0.505},
{"a":46,"m":0.025},{"a":46,"m":0.06},{"a":46,"m":0.1},{"a":46,"m":0.135},{"a":46,"m":0.175},{"a":46,"m":0.205},{"a":46,"m":0.235},{"a":46,"m":0.265},{"a":46,"m":0.295},{"a":46,"m":0.325},{"a":46,"m":0.375},{"a":46,"m":0.435},
{"a":47,"m":0.035},{"a":47,"m":0.07},{"a":47,"m":0.11},{"a":47,"m":0.145},{"a":47,"m":0.185},{"a":47,"m":0.215},{"a":47,"m":0.245},{"a":47,"m":0.275},{"a":47,"m":0.305},{"a":47,"m":0.335},{"a":47,"m":0.395},{"a":47,"m":0.455},
{"a":48,"m":0.015},{"a":48,"m":0.05},{"a":48,"m":0.09},{"a":48,"m":0.13},{"a":48,"m":0.165},{"a":48,"m":0.195},{"a":48,"m":0.225},{"a":48,"m":0.255},{"a":48,"m":0.305},{"a":48,"m":0.335},{"a":48,"m":0.385},{"a":48,"m":0.415},
{"a":49,"m":0.04},{"a":49,"m":0.08},{"a":49,"m":0.115},{"a":49,"m":0.145},{"a":49,"m":0.175},{"a":49,"m":0.205},{"a":49,"m":0.235},{"a":49,"m":0.265},{"a":49,"m":0.315},{"a":49,"m":0.345},{"a":49,"m":0.375},{"a":49,"m":0.435},
{"a":50,"m":0.025},{"a":50,"m":0.06},{"a":50,"m":0.095},{"a":50,"m":0.125},{"a":50,"m":0.155},{"a":50,"m":0.185},{"a":50,"m":0.215},{"a":50,"m":0.245},{"a":50,"m":0.275},{"a":50,"m":0.305},{"a":50,"m":0.335},{"a":50,"m":0.385},
{"a":51,"m":0.035},{"a":51,"m":0.07},{"a":51,"m":0.105},{"a":51,"m":0.135},{"a":51,"m":0.165},{"a":51,"m":0.195},{"a":51,"m":0.225},{"a":51,"m":0.255},{"a":51,"m":0.285},{"a":51,"m":0.315},{"a":51,"m":0.365},{"a":51,"m":0.425},
{"a":52,"m":0.02},{"a":52,"m":0.055},{"a":52,"m":0.09},{"a":52,"m":0.125},{"a":52,"m":0.155},{"a":52,"m":0.185},{"a":52,"m":0.215},{"a":52,"m":0.245},{"a":52,"m":0.275},{"a":52,"m":0.325},{"a":52,"m":0.355},{"a":52,"m":0.415},
{"a":53,"m":0.015},{"a":53,"m":0.045},{"a":53,"m":0.08},{"a":53,"m":0.115},{"a":53,"m":0.145},{"a":53,"m":0.175},{"a":53,"m":0.205},{"a":53,"m":0.235},{"a":53,"m":0.265},{"a":53,"m":0.295},{"a":53,"m":0.345},{"a":53,"m":0.375},
{"a":54,"m":0.035},{"a":54,"m":0.065},{"a":54,"m":0.095},{"a":54,"m":0.125},{"a":54,"m":0.155},{"a":54,"m":0.185},{"a":54,"m":0.215},{"a":54,"m":0.245},{"a":54,"m":0.275},{"a":54,"m":0.325},{"a":54,"m":0.355},{"a":54,"m":0.385},
{"a":55,"m":0.025},{"a":55,"m":0.055},{"a":55,"m":0.085},{"a":55,"m":0.115},{"a":55,"m":0.145},{"a":55,"m":0.175},{"a":55,"m":0.205},{"a":55,"m":0.235},{"a":55,"m":0.265},{"a":55,"m":0.285},{"a":55,"m":0.315},{"a":55,"m":0.345},
{"a":56,"m":0.035},{"a":56,"m":0.065},{"a":56,"m":0.095},{"a":56,"m":0.125},{"a":56,"m":0.155},{"a":56,"m":0.185},{"a":56,"m":0.215},{"a":56,"m":0.245},{"a":56,"m":0.275},{"a":56,"m":0.295},{"a":56,"m":0.325},{"a":56,"m":0.355},
{"a":57,"m":0.015},{"a":57,"m":0.045},{"a":57,"m":0.075},{"a":57,"m":0.105},{"a":57,"m":0.135},{"a":57,"m":0.165},{"a":57,"m":0.195},{"a":57,"m":0.225},{"a":57,"m":0.255},{"a":57,"m":0.285},{"a":57,"m":0.335},{"a":57,"m":0.365},
{"a":58,"m":0.025},{"a":58,"m":0.055},{"a":58,"m":0.085},{"a":58,"m":0.115},{"a":58,"m":0.145},{"a":58,"m":0.175},{"a":58,"m":0.205},{"a":58,"m":0.235},{"a":58,"m":0.265},{"a":58,"m":0.285},{"a":58,"m":0.315},{"a":58,"m":0.345},
{"a":59,"m":0.035},{"a":59,"m":0.065},{"a":59,"m":0.095},{"a":59,"m":0.125},{"a":59,"m":0.155},{"a":59,"m":0.185},{"a":59,"m":0.21},{"a":59,"m":0.235},{"a":59,"m":0.265},{"a":59,"m":0.295},{"a":59,"m":0.325},{"a":59,"m":0.355},
{"a":60,"m":0.015},{"a":60,"m":0.045},{"a":60,"m":0.075},{"a":60,"m":0.105},{"a":60,"m":0.135},{"a":60,"m":0.165},{"a":60,"m":0.195},{"a":60,"m":0.22},{"a":60,"m":0.245},{"a":60,"m":0.275},{"a":60,"m":0.305},{"a":60,"m":0.335},
{"a":61,"m":0.045},{"a":61,"m":0.075},{"a":61,"m":0.105},{"a":61,"m":0.135},{"a":61,"m":0.165},{"a":61,"m":0.195},{"a":61,"m":0.225},{"a":61,"m":0.255},{"a":61,"m":0.28},{"a":61,"m":0.305},{"a":61,"m":0.335},{"a":61,"m":0.365},
{"a":62,"m":0.035},{"a":62,"m":0.065},{"a":62,"m":0.095},{"a":62,"m":0.125},{"a":62,"m":0.155},{"a":62,"m":0.185},{"a":62,"m":0.21},{"a":62,"m":0.235},{"a":62,"m":0.265},{"a":62,"m":0.295},{"a":62,"m":0.325},{"a":62,"m":0.355},
{"a":63,"m":0.025},{"a":63,"m":0.055},{"a":63,"m":0.085},{"a":63,"m":0.115},{"a":63,"m":0.145},{"a":63,"m":0.175},{"a":63,"m":0.205},{"a":63,"m":0.23},{"a":63,"m":0.255},{"a":63,"m":0.285},{"a":63,"m":0.315},{"a":63,"m":0.345},
{"a":64,"m":0.015},{"a":64,"m":0.045},{"a":64,"m":0.075},{"a":64,"m":0.105},{"a":64,"m":0.135},{"a":64,"m":0.165},{"a":64,"m":0.195},{"a":64,"m":0.22},{"a":64,"m":0.245},{"a":64,"m":0.275},{"a":64,"m":0.305},{"a":64,"m":0.335},
{"a":65,"m":0.025},{"a":65,"m":0.055},{"a":65,"m":0.085},{"a":65,"m":0.115},{"a":65,"m":0.145},{"a":65,"m":0.175},{"a":65,"m":0.205},{"a":65,"m":0.235},{"a":65,"m":0.26},{"a":65,"m":0.285},{"a":65,"m":0.315},{"a":65,"m":0.345},
{"a":66,"m":0.035},{"a":66,"m":0.065},{"a":66,"m":0.095},{"a":66,"m":0.125},{"a":66,"m":0.155},{"a":66,"m":0.185},{"a":66,"m":0.215},{"a":66,"m":0.24},{"a":66,"m":0.265},{"a":66,"m":0.295},{"a":66,"m":0.325},
{"a":67,"m":0.015},{"a":67,"m":0.045},{"a":67,"m":0.075},{"a":67,"m":0.105},{"a":67,"m":0.135},{"a":67,"m":0.165},{"a":67,"m":0.195},{"a":67,"m":0.225},{"a":67,"m":0.25},{"a":67,"m":0.275},{"a":67,"m":0.305},
{"a":68,"m":0.025},{"a":68,"m":0.055},{"a":68,"m":0.085},{"a":68,"m":0.115},{"a":68,"m":0.145},{"a":68,"m":0.175},{"a":68,"m":0.205},{"a":68,"m":0.235},{"a":68,"m":0.265},{"a":68,"m":0.295},
{"a":69,"m":0.015},{"a":69,"m":0.045},{"a":69,"m":0.075},{"a":69,"m":0.105},{"a":69,"m":0.135},{"a":69,"m":0.165},{"a":69,"m":0.195},{"a":69,"m":0.225},{"a":69,"m":0.255},{"a":69,"m":0.285},
{"a":70,"m":0.025},{"a":70,"m":0.055},{"a":70,"m":0.085},{"a":70,"m":0.115},{"a":70,"m":0.145},{"a":70,"m":0.175},{"a":70,"m":0.205},{"a":70,"m":0.235},{"a":70,"m":0.265},
{"a":71,"m":0.035},{"a":71,"m":0.11},{"a":71,"m":0.15},{"a":71,"m":0.19},{"a":71,"m":0.23},{"a":71,"m":0.27},
{"a":72,"m":0.045},{"a":72,"m":0.08},{"a":72,"m":0.12},{"a":72,"m":0.16},{"a":72,"m":0.2},{"a":72,"m":0.24},
{"a":73,"m":0.05},{"a":73,"m":0.09},{"a":73,"m":0.13},{"a":73,"m":0.17},{"a":73,"m":0.21},{"a":73,"m":0.25},
{"a":74,"m":0.04},{"a":74,"m":0.08},{"a":74,"m":0.12},{"a":74,"m":0.16},{"a":74,"m":0.2},{"a":74,"m":0.24},
{"a":75,"m":0.015},{"a":75,"m":0.05},{"a":75,"m":0.09},{"a":75,"m":0.13},{"a":75,"m":0.17},{"a":75,"m":0.21},
{"a":76,"m":0.04},{"a":76,"m":0.08},{"a":76,"m":0.12},{"a":76,"m":0.16},{"a":76,"m":0.2},{"a":76,"m":0.24},
{"a":77,"m":0.05},{"a":77,"m":0.09},{"a":77,"m":0.13},{"a":77,"m":0.17},{"a":77,"m":0.21},{"a":77,"m":0.25},
{"a":78,"m":0.04},{"a":78,"m":0.08},{"a":78,"m":0.12},{"a":78,"m":0.16},{"a":78,"m":0.2},{"a":78,"m":0.24},
{"a":79,"m":0.02},{"a":79,"m":0.06},{"a":79,"m":0.1},{"a":79,"m":0.14},{"a":79,"m":0.18},{"a":79,"m":0.22},
{"a":80,"m":0.03},{"a":80,"m":0.07},{"a":80,"m":0.11},{"a":80,"m":0.15},{"a":80,"m":0.19},{"a":80,"m":0.23}
]},
"mark":{"type":"square","size":4,"color":"black","opacity":1},
"encoding":{
"x":{"field":"a","type":"quantitative","scale":{"domain":[19.66,91.67],"nice":false,"zero":false},"axis":{"values":[20,40,60,80],"title":"Age at Mammogram","labelFontSize":19,"titleFontSize":20,"labelPadding":5,"titlePadding":26}},
"y":{"field":"m","type":"quantitative","scale":{"domain":[-0.0107,1.0165],"nice":false,"zero":false},"axis":{"values":[0,0.2,0.4,0.6,0.8,1.0],"format":".1f","title":"Standardized MD","labelFontSize":18,"titleFontSize":19,"labelPadding":4,"titlePadding":38}}
}},
{"data":{"values":[
{"s":"MMHS","a":35,"m":0.487},{"s":"MMHS","a":38,"m":0.466},{"s":"MMHS","a":41,"m":0.445},{"s":"MMHS","a":44,"m":0.424},{"s":"MMHS","a":47,"m":0.403},{"s":"MMHS","a":50,"m":0.378},{"s":"MMHS","a":52,"m":0.36},{"s":"MMHS","a":54,"m":0.34},{"s":"MMHS","a":56,"m":0.32},{"s":"MMHS","a":58,"m":0.3},{"s":"MMHS","a":59,"m":0.29},{"s":"MMHS","a":60,"m":0.279},{"s":"MMHS","a":61,"m":0.268},{"s":"MMHS","a":62,"m":0.258},{"s":"MMHS","a":63,"m":0.25},{"s":"MMHS","a":64,"m":0.243},{"s":"MMHS","a":66,"m":0.233},{"s":"MMHS","a":68,"m":0.226},{"s":"MMHS","a":71,"m":0.218},{"s":"MMHS","a":74,"m":0.21},{"s":"MMHS","a":77,"m":0.203},{"s":"MMHS","a":80,"m":0.195},{"s":"MMHS","a":82,"m":0.19},{"s":"MMHS","a":84,"m":0.185},
{"s":"MCBCS","a":38,"m":0.546},{"s":"MCBCS","a":40,"m":0.52},{"s":"MCBCS","a":42,"m":0.494},{"s":"MCBCS","a":44,"m":0.47},{"s":"MCBCS","a":46,"m":0.447},{"s":"MCBCS","a":48,"m":0.424},{"s":"MCBCS","a":50,"m":0.4},{"s":"MCBCS","a":52,"m":0.376},{"s":"MCBCS","a":54,"m":0.352},{"s":"MCBCS","a":56,"m":0.332},{"s":"MCBCS","a":58,"m":0.313},{"s":"MCBCS","a":60,"m":0.299},{"s":"MCBCS","a":62,"m":0.289},{"s":"MCBCS","a":64,"m":0.279},{"s":"MCBCS","a":66,"m":0.271},{"s":"MCBCS","a":68,"m":0.265},{"s":"MCBCS","a":70,"m":0.259},{"s":"MCBCS","a":72,"m":0.253},{"s":"MCBCS","a":75,"m":0.244},{"s":"MCBCS","a":78,"m":0.233},{"s":"MCBCS","a":81,"m":0.222},{"s":"MCBCS","a":83,"m":0.214},
{"s":"NHS","a":26,"m":0.64},{"s":"NHS","a":30,"m":0.606},{"s":"NHS","a":35,"m":0.562},{"s":"NHS","a":38,"m":0.535},{"s":"NHS","a":41,"m":0.505},{"s":"NHS","a":44,"m":0.473},{"s":"NHS","a":47,"m":0.446},{"s":"NHS","a":50,"m":0.418},{"s":"NHS","a":52,"m":0.397},{"s":"NHS","a":54,"m":0.372},{"s":"NHS","a":56,"m":0.348},{"s":"NHS","a":58,"m":0.332},{"s":"NHS","a":60,"m":0.316},{"s":"NHS","a":62,"m":0.301},{"s":"NHS","a":64,"m":0.29},{"s":"NHS","a":66,"m":0.281},{"s":"NHS","a":68,"m":0.274},{"s":"NHS","a":72,"m":0.257},{"s":"NHS","a":76,"m":0.239},{"s":"NHS","a":80,"m":0.222},{"s":"NHS","a":84,"m":0.203},{"s":"NHS","a":88,"m":0.187},{"s":"NHS","a":91,"m":0.173},
{"s":"NHS 2","a":33,"m":0.418},{"s":"NHS 2","a":36,"m":0.414},{"s":"NHS 2","a":39,"m":0.411},{"s":"NHS 2","a":42,"m":0.407},{"s":"NHS 2","a":44,"m":0.402},{"s":"NHS 2","a":46,"m":0.388},{"s":"NHS 2","a":48,"m":0.37},{"s":"NHS 2","a":50,"m":0.35},{"s":"NHS 2","a":52,"m":0.327},{"s":"NHS 2","a":54,"m":0.303},{"s":"NHS 2","a":56,"m":0.281},{"s":"NHS 2","a":57,"m":0.27},
{"s":"MCMAM","a":52,"m":0.37},{"s":"MCMAM","a":55,"m":0.335},{"s":"MCMAM","a":58,"m":0.305},{"s":"MCMAM","a":61,"m":0.285},{"s":"MCMAM","a":64,"m":0.27},{"s":"MCMAM","a":67,"m":0.26},{"s":"MCMAM","a":70,"m":0.252},{"s":"MCMAM","a":74,"m":0.243},{"s":"MCMAM","a":78,"m":0.235},{"s":"MCMAM","a":81,"m":0.229},{"s":"MCMAM","a":85,"m":0.216},
{"s":"SFMR","a":34,"m":0.492},{"s":"SFMR","a":38,"m":0.47},{"s":"SFMR","a":42,"m":0.445},{"s":"SFMR","a":46,"m":0.41},{"s":"SFMR","a":50,"m":0.37},{"s":"SFMR","a":54,"m":0.33},{"s":"SFMR","a":58,"m":0.298},{"s":"SFMR","a":62,"m":0.278},{"s":"SFMR","a":66,"m":0.263},{"s":"SFMR","a":70,"m":0.252},{"s":"SFMR","a":75,"m":0.242},{"s":"SFMR","a":80,"m":0.232},{"s":"SFMR","a":85,"m":0.215},{"s":"SFMR","a":89,"m":0.2}
]},
"mark":{"type":"line","color":"black","strokeWidth":3,"interpolate":"monotone"},
"encoding":{
"x":{"field":"a","type":"quantitative"},
"y":{"field":"m","type":"quantitative"},
"detail":{"field":"s"},
"strokeDash":{"field":"s","type":"nominal","title":"Study","scale":{"domain":["MMHS","MCBCS","NHS","NHS 2","MCMAM","SFMR"],"range":[[1,0],[45,10,6,10],[38,16],[14,8],[2,3],[3,18]]}}
}}
]
}
